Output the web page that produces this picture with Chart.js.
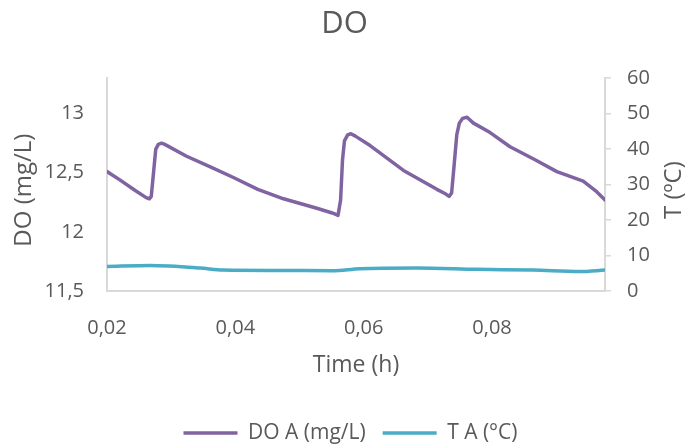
<!DOCTYPE html>
<html>
<head>
<meta charset="utf-8">
<script src="https://cdn.jsdelivr.net/npm/chart.js@4/dist/chart.umd.min.js"></script>
<style>
  html, body { margin: 0; padding: 0; background: #ffffff; }
  canvas { display: block; }
</style>
</head>
<body>
<canvas id="chart" width="689" height="448"></canvas>
<script>
// Dissolved oxygen (left axis) and temperature (right axis) against time
const doTime = [0.0200, 0.0220, 0.0244, 0.0261, 0.0266, 0.0269, 0.0273, 0.0276, 0.0280, 0.0285,
                0.0290, 0.0324, 0.0361, 0.0397, 0.0435, 0.0475, 0.0527, 0.0551, 0.0560, 0.0564,
                0.0567, 0.0570, 0.0575, 0.0580, 0.0587, 0.0610, 0.0662, 0.0714, 0.0728, 0.0733,
                0.0737, 0.0741, 0.0745, 0.0749, 0.0754, 0.0761, 0.0771, 0.0797, 0.0828, 0.0867,
                0.0901, 0.0942, 0.0963, 0.0976];
const doValue = [12.51, 12.44, 12.35, 12.29, 12.28, 12.30, 12.53, 12.70, 12.74, 12.75,
                 12.74, 12.64, 12.55, 12.46, 12.36, 12.28, 12.20, 12.16, 12.14, 12.27,
                 12.61, 12.77, 12.82, 12.83, 12.81, 12.73, 12.52, 12.36, 12.32, 12.30,
                 12.33, 12.57, 12.82, 12.92, 12.96, 12.97, 12.92, 12.84, 12.72, 12.61,
                 12.51, 12.43, 12.34, 12.27];

const tempTime = [0.0200, 0.0267, 0.0345, 0.0381, 0.0470, 0.0552, 0.0594, 0.0683, 0.0777, 0.0864, 0.0937, 0.0976];
const tempValue = [6.9, 7.2, 6.5, 5.9, 5.8, 5.7, 6.3, 6.5, 6.1, 5.9, 5.5, 5.9];

const seriesNames = ['DO A (mg/L)', 'T A (°C)'];

const xTickValues = [0.02, 0.04, 0.06, 0.08];
const xTickLabels = ['0,02', '0,04', '0,06', '0,08'];
const doTickValues = [11.5, 12, 12.5, 13];
const doTickLabels = ['11,5', '12', '12,5', '13'];
const tempTickValues = [0, 10, 20, 30, 40, 50, 60];
const tempTickLabels = ['0', '10', '20', '30', '40', '50', '60'];

const chartTitle = 'DO';
const xTitle = 'Time (h)';
const doTitle = 'DO (mg/L)';
const tempTitle = 'T (ºC)';

const TEXT = '#595959';
const AXIS = '#d9d9d9';
const PURPLE = '#8064A2';
const AQUA = '#4BACC6';
const FONT = '"Open Sans", "DejaVu Sans", sans-serif';

const pairs = (xs, ys) => xs.map((x, i) => ({ x: x, y: ys[i] }));
const fixedTicks = (values) => (scale) => { scale.ticks = values.map(v => ({ value: v })); };

// vertical axis titles, both reading bottom to top
const sideTitles = {
  id: 'sideTitles',
  afterDraw(chart) {
    const { ctx, chartArea, scales } = chart;
    const midY = (chartArea.top + chartArea.bottom) / 2 + 5.5;
    ctx.save();
    ctx.fillStyle = TEXT;
    ctx.font = '24px ' + FONT;
    ctx.textAlign = 'center';
    ctx.textBaseline = 'middle';
    [[doTitle, scales.y.left + 24], [tempTitle, scales.y1.right - 15]].forEach(([text, x]) => {
      ctx.save();
      ctx.translate(x, midY);
      ctx.rotate(-Math.PI / 2);
      ctx.fillText(text, 0, 0);
      ctx.restore();
    });
    ctx.restore();
  }
};

// nudge the legend row slightly lower and to the right
const legendNudge = {
  id: 'legendNudge',
  afterLayout(chart) {
    const l = chart.legend;
    if (!l) return;
    l.top += 5.5; l.bottom += 5.5;
    l.left += 6; l.right += 6;
  }
};

new Chart(document.getElementById('chart'), {
  type: 'line',
  data: {
    datasets: [
      {
        label: seriesNames[0],
        data: pairs(doTime, doValue),
        yAxisID: 'y',
        borderColor: PURPLE,
        backgroundColor: PURPLE,
        borderWidth: 3.5,
        pointRadius: 0,
        tension: 0,
        borderJoinStyle: 'round',
        borderCapStyle: 'round'
      },
      {
        label: seriesNames[1],
        data: pairs(tempTime, tempValue),
        yAxisID: 'y1',
        borderColor: AQUA,
        backgroundColor: AQUA,
        borderWidth: 3.5,
        pointRadius: 0,
        cubicInterpolationMode: 'monotone'
      }
    ]
  },
  options: {
    responsive: false,
    animation: false,
    devicePixelRatio: 1,
    layout: { padding: 0 },
    plugins: {
      title: {
        display: true,
        text: chartTitle,
        color: TEXT,
        font: { family: FONT, size: 31, weight: 'normal' },
        padding: { top: 6, bottom: 35 }
      },
      legend: {
        display: true,
        position: 'bottom',
        labels: {
          color: TEXT,
          font: { family: FONT, size: 21 },
          usePointStyle: true,
          pointStyle: 'line',
          pointStyleWidth: 54,
          padding: 17
        }
      },
      tooltip: { enabled: false }
    },
    scales: {
      x: {
        type: 'linear',
        min: 0.02,
        max: 0.0976,
        afterBuildTicks: fixedTicks(xTickValues),
        afterFit(scale) { scale.height = 109; },
        ticks: {
          color: TEXT,
          font: { family: FONT, size: 20 },
          padding: 25,
          maxRotation: 0,
          autoSkip: false,
          callback: (v, i) => xTickLabels[i]
        },
        grid: { display: false, drawTicks: false },
        border: { display: true, color: AXIS, width: 2 },
        title: {
          display: true,
          text: xTitle,
          color: TEXT,
          font: { family: FONT, size: 23 },
          padding: { top: 0, bottom: 21 }
        }
      },
      y: {
        position: 'left',
        min: 11.5,
        max: 13.3,
        afterBuildTicks: fixedTicks(doTickValues),
        afterFit(scale) { scale.width = 107; },
        ticks: {
          color: TEXT,
          font: { family: FONT, size: 20 },
          padding: 23,
          callback: (v, i) => doTickLabels[i]
        },
        grid: { display: false, drawTicks: false },
        border: { display: true, color: AXIS, width: 2 }
      },
      y1: {
        position: 'right',
        min: 0,
        max: 60,
        afterBuildTicks: fixedTicks(tempTickValues),
        afterFit(scale) { scale.width = 84; },
        ticks: {
          color: TEXT,
          font: { family: FONT, size: 20 },
          padding: 16,
          callback: (v, i) => tempTickLabels[i]
        },
        grid: {
          display: true,
          drawOnChartArea: false,
          drawTicks: true,
          tickLength: 6,
          color: AXIS,
          lineWidth: 1.5
        },
        border: { display: true, color: AXIS, width: 2 }
      }
    }
  },
  plugins: [sideTitles, legendNudge]
});
</script>
</body>
</html>
